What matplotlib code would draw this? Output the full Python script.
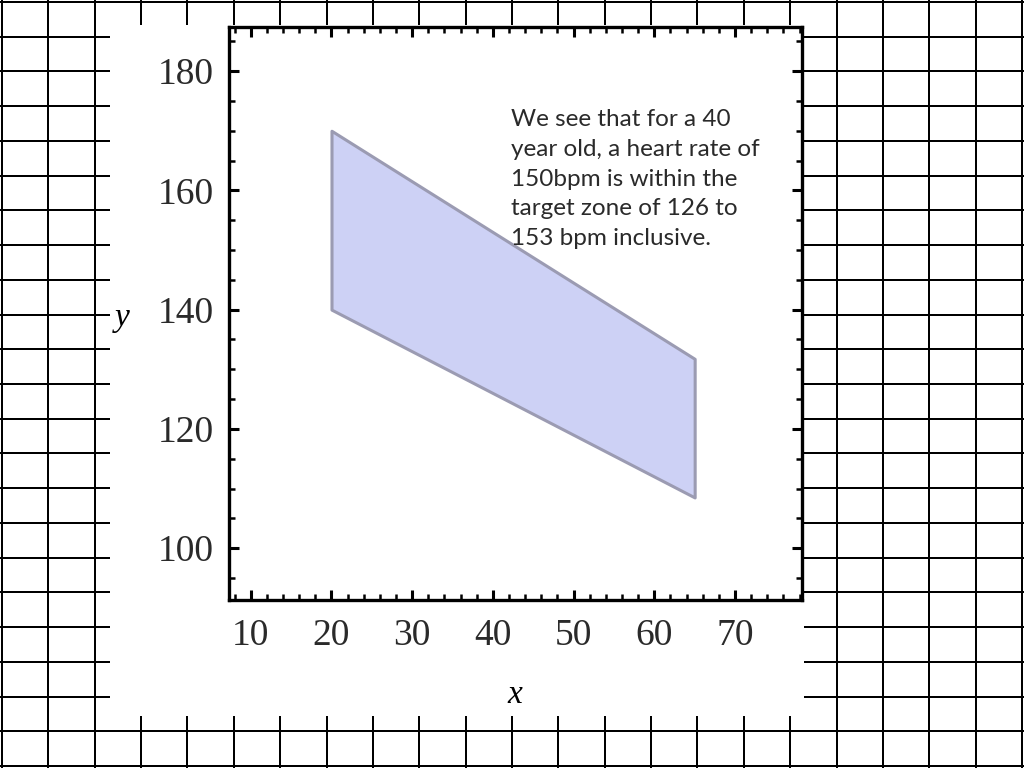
import numpy as np
import matplotlib
matplotlib.use('Agg')
import matplotlib.pyplot as plt
from matplotlib.patches import Rectangle

# target zone: age vs heart rate bounds (0.7 and 0.85 of 220 - age)
age = [20, 65]
lower_bpm = [140, 108.5]
upper_bpm = [170, 131.75]

x_major = [10, 20, 30, 40, 50, 60, 70]
y_major = [100, 120, 140, 160, 180]

note = ("We see that for a 40\nyear old, a heart rate of\n150bpm is within the\n"
        "target zone of 126 to\n153 bpm inclusive.")

W, H = 1024, 768
fig = plt.figure(figsize=(W / 100, H / 100), dpi=100)

# graph paper background in pixel coordinates
bg = fig.add_axes([0, 0, 1, 1])
bg.set_xlim(0, W)
bg.set_ylim(H, 0)
bg.axis('off')
for gx in np.round(np.linspace(2, 1022, 23)):
    bg.plot([gx, gx], [0, H], color='black', lw=1.44, zorder=1)
for gy in np.round(np.linspace(2, 766, 23)):
    bg.plot([0, W], [gy, gy], color='black', lw=1.44, zorder=1)
bg.add_patch(Rectangle((110, 25), 694, 691, facecolor='white', edgecolor='none', zorder=2))

ax = fig.add_axes([229 / W, (H - 600) / H, (802 - 229) / W, (600 - 27) / H])
ax.set_xlim(7.3, 78.3)
ax.set_ylim(91.3, 187.4)

ax.fill_between(age, lower_bpm, upper_bpm, facecolor='#cdd1f5',
                edgecolor='#9b9bb2', linewidth=2.2, zorder=2)

ax.set_xticks(x_major)
ax.set_yticks(y_major)
ax.set_xticks(np.arange(8, 79, 2), minor=True)
ax.set_yticks(np.arange(95, 187, 5), minor=True)
ax.tick_params(which='both', direction='in', top=True, right=True, colors='black')
ax.tick_params(which='major', length=7, width=2.2, labelsize=27)
ax.tick_params(axis='y', which='major', pad=11)
ax.tick_params(axis='x', which='major', pad=13)
ax.tick_params(which='minor', length=4, width=1.8)
for lab in ax.get_xticklabels() + ax.get_yticklabels():
    lab.set_family('Liberation Serif')
    lab.set_color('#2a2a2a')
for sp in ax.spines.values():
    sp.set_linewidth(2.4)

fig.text(122 / W, 1 - 318 / H, 'y', family='Liberation Serif', style='italic',
         fontsize=24, ha='center', va='center')
fig.text(515 / W, 1 - 695 / H, 'x', family='Liberation Serif', style='italic',
         fontsize=24, ha='center', va='center')

ax.text(0.493, 0.857, note, transform=ax.transAxes, family='Lato', fontsize=17.5,
        color='#2a2a2a', ha='left', va='top', linespacing=1.52, zorder=3)

fig.savefig('out.png', dpi=100)
